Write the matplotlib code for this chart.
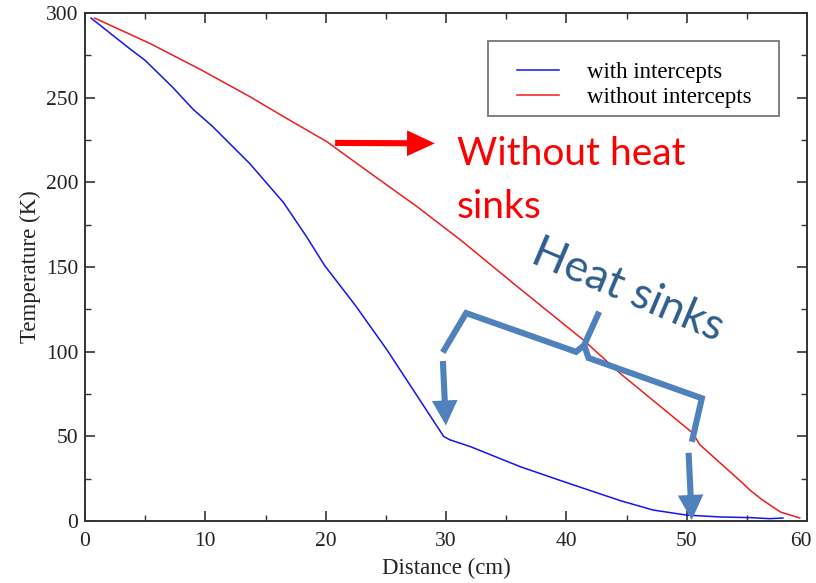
import matplotlib
matplotlib.use("Agg")
import matplotlib.pyplot as plt
from matplotlib.patches import FancyArrowPatch, Rectangle
from matplotlib.lines import Line2D
from matplotlib.transforms import ScaledTranslation

# Temperature profiles along the support (distance in cm, temperature in K)
dist_with = [0.5, 3.7, 5.0, 7.3, 9.0, 10.6, 13.7, 16.5, 18.4, 19.9,
             22.5, 25.1, 29.8, 30.3, 32.0, 36.2, 40.3, 44.5, 47.2, 50.0,
             52.8, 55.3, 56.9, 58.0]
temp_with = [297, 279, 272, 256, 243, 233, 211, 188, 168, 151,
             127, 101, 50, 48, 44, 32, 22, 12, 6.5, 3.5,
             2.4, 2.0, 1.4, 1.8]

dist_without = [0.8, 5.4, 9.6, 13.7, 16.5, 20.1, 23.4, 27.6, 31.2, 36.0,
                41.4, 44.5, 50.5, 51.1, 54.4, 55.3, 56.3, 57.8, 59.4]
temp_without = [297, 282, 266.6, 250.6, 238.8, 224, 207, 185.6, 166, 138,
                107, 87, 52, 45, 24, 18, 12.4, 5.3, 1.8]

labels = ["with intercepts", "without intercepts"]

serif = ["Liberation Serif", "DejaVu Serif"]
plt.rcParams["font.family"] = serif

fig = plt.figure(figsize=(8.16, 5.83), dpi=100)
ax = fig.add_axes([0.1042, 0.1063, 0.8848, 0.8714])

ax.plot(dist_with, temp_with, color="#1414f0", lw=1.1, label=labels[0])
ax.plot(dist_without, temp_without, color="#ee1c1c", lw=1.1, label=labels[1])

ax.set_xlim(0, 60)
ax.set_ylim(0, 300)
ax.set_xticks(range(0, 61, 10))
ax.set_yticks(range(0, 301, 50))
ax.set_xticks(range(5, 60, 10), minor=True)
ax.set_yticks(range(25, 300, 50), minor=True)
ax.tick_params(which="both", direction="in", top=True, right=True,
               colors="#333333", labelcolor="#222222", labelsize=15.5)
ax.tick_params(which="major", length=7, width=1.2, pad=5)
ax.tick_params(axis="x", which="major", pad=8)
ax.tick_params(which="minor", length=4, width=1.0)
for s in ax.spines.values():
    s.set_color("#333333")
    s.set_linewidth(1.4)

# keep the last x tick label inside the figure
fig.canvas.draw()
last = ax.get_xticklabels()[-1]
last.set_transform(last.get_transform()
                   + ScaledTranslation(-6 / 100, 0, fig.dpi_scale_trans))

ax.set_xlabel("Distance (cm)", fontsize=16.5, color="#222222", labelpad=5)
ax.set_ylabel("Temperature (K)", fontsize=16.5, color="#222222", labelpad=3)

# legend entries with a separately drawn frame
leg = ax.legend(loc="upper left", bbox_to_anchor=(0.598, 0.904),
                fontsize=16.5, frameon=False, handlelength=1.83,
                handletextpad=1.22, borderpad=0, labelspacing=0.2,
                borderaxespad=0)
ax.add_patch(Rectangle((0.558, 0.797), 0.403, 0.148, transform=ax.transAxes,
                       fill=False, edgecolor="#808080", lw=1.4, zorder=4))

# Callout: curve without heat sinks
sans = ["Lato", "DejaVu Sans"]
ax.add_patch(FancyArrowPatch(
    (20.55, 223.3), (29.3, 223.0),
    arrowstyle="simple,head_length=20,head_width=18.5,tail_width=4.4",
    mutation_scale=1, color="#ff0000", lw=0, zorder=5))
ax.text(30.9, 210.5, "Without heat", color="#ff0000", fontsize=28,
        family=sans, ha="left", va="baseline")
ax.text(30.9, 179.2, "sinks", color="#ff0000", fontsize=28,
        family=sans, ha="left", va="baseline")

# Callout: bracket and arrows pointing to the heat sink positions
hs_color = "#4f81bd"
brace_x = [29.73, 31.67, 40.81, 41.48, 42.73]
brace_y = [99.6, 122.8, 99.9, 103.9, 123.6]
ax.add_line(Line2D(brace_x, brace_y, color=hs_color, lw=4.4,
                   solid_joinstyle="miter", solid_capstyle="butt", zorder=5))
brace_x2 = [41.48, 41.84, 51.26, 50.43]
brace_y2 = [103.9, 96.3, 72.5, 46.8]
ax.add_line(Line2D(brace_x2, brace_y2, color=hs_color, lw=4.4,
                   solid_joinstyle="miter", solid_capstyle="butt", zorder=5))

for start, tip in [((29.73, 96.1), (30.0, 54.8)),
                   ((50.15, 41.9), (50.43, -1.0))]:
    ax.add_patch(FancyArrowPatch(
        start, tip,
        arrowstyle="simple,head_length=18,head_width=18.5,tail_width=4.4",
        mutation_scale=1, color=hs_color, lw=0, zorder=6, clip_on=False))

ax.text(45.1, 136.4, "Heat sinks", color="#2e5e8e", fontsize=32,
        family=sans, rotation=-23, rotation_mode="anchor",
        ha="center", va="center")

fig.savefig("out.png", dpi=100)
